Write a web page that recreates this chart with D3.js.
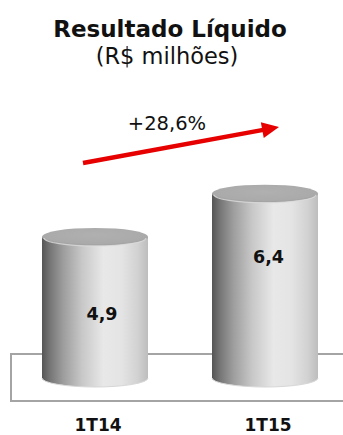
<!DOCTYPE html>
<html>
<head>
<meta charset="utf-8">
<script src="https://cdn.jsdelivr.net/npm/d3@7"></script>
<style>
  html, body { margin: 0; padding: 0; background: #fff; }
  svg { display: block; }
</style>
</head>
<body>
<svg id="chart" width="343" height="435"></svg>
<script>
// Data
const categories = ["1T14", "1T15"];
const values = [4.9, 6.4];
const valueLabels = ["4,9", "6,4"];
const growthLabel = "+28,6%";
const titleText = "Resultado Líquido";
const subtitleText = "(R$ milhões)";

const svg = d3.select("#chart");
const FONT = "DejaVu Sans, Verdana, sans-serif";

// Scales
const x = d3.scalePoint().domain(categories).range([95, 265]);
const y = d3.scaleLinear().domain([0, 7]).range([378, 176.4]);

const rx = 53, ry = 9;

// Gradients
const defs = svg.append("defs");
const sideGrad = defs.append("linearGradient").attr("id", "sideGrad")
  .attr("x1", "0%").attr("x2", "100%").attr("y1", "0%").attr("y2", "0%");
[[0, "#555555"], [0.08, "#777777"], [0.2, "#9d9d9d"], [0.38, "#c8c8c8"],
 [0.58, "#e8e8e8"], [0.75, "#e4e4e4"], [0.9, "#d2d2d2"], [1, "#bdbdbd"]]
  .forEach(([o, c]) => sideGrad.append("stop").attr("offset", o).attr("stop-color", c));

const lidGrad = defs.append("radialGradient").attr("id", "lidGrad")
  .attr("cx", "50%").attr("cy", "40%").attr("r", "60%");
[[0, "#b0b0b0"], [0.8, "#aaaaaa"], [1, "#9e9e9e"]]
  .forEach(([o, c]) => lidGrad.append("stop").attr("offset", o).attr("stop-color", c));

// Floor frame behind the cylinders
svg.append("rect")
  .attr("x", 11).attr("y", 354)
  .attr("width", 340).attr("height", 47)
  .attr("fill", "#fff")
  .attr("stroke", "#a4a4a4")
  .attr("stroke-width", 2);

// Cylinders
const g = svg.append("g");
categories.forEach((c, i) => {
  const cx = x(c);
  const y0 = y(0), y1 = y(values[i]);
  const l = cx - rx, r = cx + rx;

  g.append("path")
    .attr("d", `M${l},${y1} L${l},${y0} A${rx},${ry} 0 0 0 ${r},${y0} L${r},${y1} Z`)
    .attr("fill", "url(#sideGrad)");

  // light rim along the base
  g.append("path")
    .attr("d", `M${l},${y0} A${rx},${ry} 0 0 0 ${r},${y0}`)
    .attr("fill", "none")
    .attr("stroke", "#d6d6d6")
    .attr("stroke-width", 1);

  g.append("ellipse")
    .attr("cx", cx).attr("cy", y1)
    .attr("rx", rx).attr("ry", ry)
    .attr("fill", "url(#lidGrad)");

  // bright front edge of the lid
  g.append("path")
    .attr("d", `M${l + 2},${y1 + 1} A${rx - 2},${ry - 1} 0 0 0 ${r - 2},${y1 + 1}`)
    .attr("fill", "none")
    .attr("stroke", "#dcdcdc")
    .attr("stroke-width", 1.2)
    .attr("opacity", 0.8);
});

// Value labels inside the cylinders
const labelPos = [[102, 320], [268.5, 263]];
categories.forEach((c, i) => {
  svg.append("text")
    .attr("x", labelPos[i][0]).attr("y", labelPos[i][1])
    .attr("text-anchor", "middle")
    .attr("font-family", FONT)
    .attr("font-weight", "bold")
    .attr("font-size", 17.5)
    .attr("fill", "#111")
    .text(valueLabels[i]);
});

// Category labels
categories.forEach((c, i) => {
  svg.append("text")
    .attr("x", x(c) + 3).attr("y", 431)
    .attr("text-anchor", "middle")
    .attr("font-family", FONT)
    .attr("font-weight", "bold")
    .attr("font-size", 17)
    .attr("fill", "#111")
    .text(c);
});

// Title
svg.append("text")
  .attr("x", 170).attr("y", 37)
  .attr("text-anchor", "middle")
  .attr("font-family", FONT)
  .attr("font-weight", "bold")
  .attr("font-size", 23)
  .attr("fill", "#111")
  .text(titleText);

svg.append("text")
  .attr("x", 167).attr("y", 64)
  .attr("text-anchor", "middle")
  .attr("font-family", FONT)
  .attr("font-size", 22.5)
  .attr("fill", "#111")
  .text(subtitleText);

// Growth annotation and arrow
svg.append("text")
  .attr("x", 167).attr("y", 130)
  .attr("text-anchor", "middle")
  .attr("font-family", FONT)
  .attr("font-size", 19.5)
  .attr("fill", "#111")
  .text(growthLabel);

const ax0 = 83, ay0 = 163, ax1 = 279, ay1 = 127;
const ang = Math.atan2(ay1 - ay0, ax1 - ax0);
const headLen = 17, headHalf = 8;
const bx = ax1 - headLen * Math.cos(ang), by = ay1 - headLen * Math.sin(ang);
const nx = -Math.sin(ang), ny = Math.cos(ang);

svg.append("line")
  .attr("x1", ax0).attr("y1", ay0)
  .attr("x2", bx + Math.cos(ang)).attr("y2", by + Math.sin(ang))
  .attr("stroke", "#e60000")
  .attr("stroke-width", 4.5);

svg.append("path")
  .attr("d", `M${ax1},${ay1} L${bx + nx * headHalf},${by + ny * headHalf} L${bx - nx * headHalf},${by - ny * headHalf} Z`)
  .attr("fill", "#e60000");
</script>
</body>
</html>
